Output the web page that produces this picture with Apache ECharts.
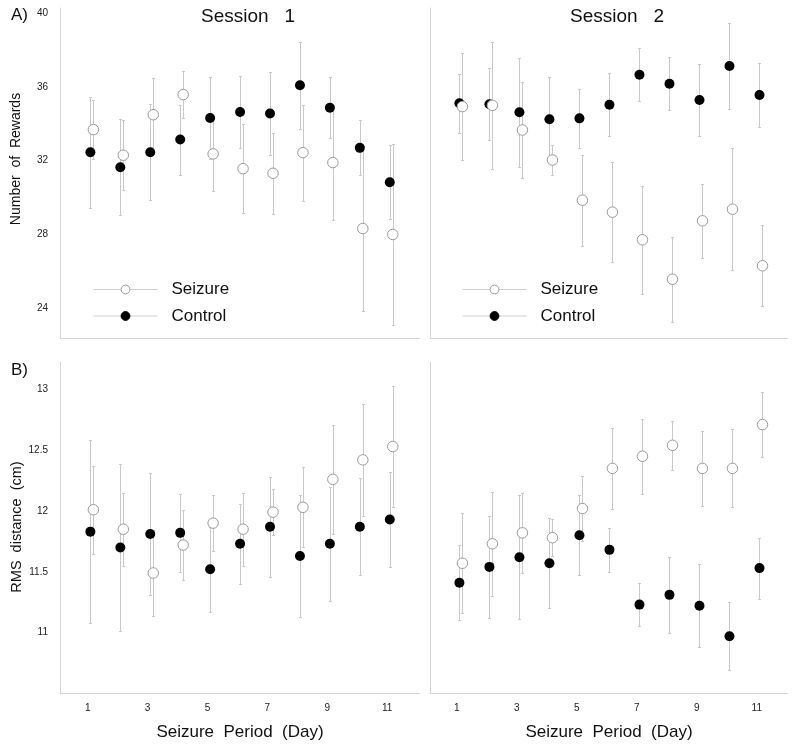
<!DOCTYPE html>
<html>
<head>
<meta charset="utf-8">
<script src="https://cdn.jsdelivr.net/npm/echarts@6/dist/echarts.min.js"></script>
<style>
html,body{margin:0;padding:0;background:#fff;}
#chart{width:799px;height:752px;}
</style>
</head>
<body>
<div id="chart"></div>
<script>
// ---- data ----
const days = [1, 2, 3, 4, 5, 6, 7, 8, 9, 10, 11];
const xTickLabels = [1, 3, 5, 7, 9, 11];
const rewardTicks = [24, 28, 32, 36, 40];
const rmsTicks = [11, 11.5, 12, 12.5, 13];

// Session 1 - Number of rewards
const s1RewardSeizure    = [33.69, 32.30, 34.50, 35.59, 32.37, 31.57, 31.32, 32.44, 31.90, 28.32, 28.00];
const s1RewardSeizureErr = [1.60, 1.90, 2.00, 1.26, 2.00, 2.40, 2.20, 2.60, 3.10, 4.50, 4.90];
const s1RewardControl    = [32.46, 31.65, 32.46, 33.15, 34.32, 34.65, 34.56, 36.10, 34.88, 32.70, 30.83];
const s1RewardControlErr = [3.00, 2.60, 2.60, 1.90, 2.20, 1.95, 2.27, 2.36, 1.65, 1.50, 2.00];

// Session 2 - Number of rewards
const s2RewardSeizure    = [34.94, 35.01, 33.67, 32.04, 29.86, 29.21, 27.71, 25.57, 28.74, 29.37, 26.30];
const s2RewardSeizureErr = [2.90, 3.45, 2.60, 0.80, 2.46, 2.70, 2.92, 2.30, 2.00, 3.30, 2.20];
const s2RewardControl    = [35.12, 35.07, 34.63, 34.25, 34.30, 35.04, 36.67, 36.18, 35.30, 37.14, 35.57];
const s2RewardControlErr = [1.60, 1.95, 2.95, 2.28, 1.60, 1.70, 1.43, 1.45, 1.95, 2.35, 1.75];

// Session 1 - RMS distance (cm)
const s1RmsSeizure    = [12.01, 11.85, 11.49, 11.72, 11.90, 11.85, 11.99, 12.03, 12.26, 12.42, 12.53];
const s1RmsSeizureErr = [0.36, 0.30, 0.35, 0.29, 0.23, 0.30, 0.19, 0.33, 0.45, 0.46, 0.50];
const s1RmsControl    = [11.83, 11.70, 11.81, 11.82, 11.52, 11.73, 11.87, 11.63, 11.73, 11.87, 11.93];
const s1RmsControlErr = [0.75, 0.69, 0.50, 0.32, 0.35, 0.33, 0.41, 0.50, 0.47, 0.40, 0.39];

// Session 2 - RMS distance (cm)
const s2RmsSeizure    = [11.57, 11.73, 11.82, 11.78, 12.02, 12.35, 12.45, 12.54, 12.35, 12.35, 12.71];
const s2RmsSeizureErr = [0.41, 0.43, 0.33, 0.15, 0.27, 0.33, 0.31, 0.20, 0.31, 0.32, 0.27];
const s2RmsControl    = [11.41, 11.54, 11.62, 11.57, 11.80, 11.68, 11.23, 11.31, 11.22, 10.97, 11.53];
const s2RmsControlErr = [0.31, 0.42, 0.51, 0.37, 0.33, 0.18, 0.18, 0.31, 0.34, 0.28, 0.25];

// ---- style / layout ----
const FONT = '"Liberation Sans", Arial, Helvetica, sans-serif';
const AXIS_COLOR = '#d6d6d6';
const BAR_COLOR = '#c9c9c9';
const CONTROL_OFFSET = 0.09;
const SEIZURE_OFFSET = 0.19;

const panels = [
  { grid: {left: 60, top: 8, width: 360, height: 330}, xmin: 0.075, xmax: 12.1, ymin: 22.38, ymax: 40.29, yTicks: rewardTicks, yLabels: true, xLabels: false,
    seizure: s1RewardSeizure, seizureErr: s1RewardSeizureErr, control: s1RewardControl, controlErr: s1RewardControlErr },
  { grid: {left: 430, top: 8, width: 358, height: 330}, xmin: 0.11, xmax: 12.04, ymin: 22.38, ymax: 40.29, yTicks: rewardTicks, yLabels: false, xLabels: false,
    seizure: s2RewardSeizure, seizureErr: s2RewardSeizureErr, control: s2RewardControl, controlErr: s2RewardControlErr },
  { grid: {left: 60, top: 362, width: 360, height: 331}, xmin: 0.075, xmax: 12.1, ymin: 10.503, ymax: 13.225, yTicks: rmsTicks, yLabels: true, xLabels: true,
    seizure: s1RmsSeizure, seizureErr: s1RmsSeizureErr, control: s1RmsControl, controlErr: s1RmsControlErr },
  { grid: {left: 430, top: 362, width: 358, height: 331}, xmin: 0.11, xmax: 12.04, ymin: 10.503, ymax: 13.225, yTicks: rmsTicks, yLabels: false, xLabels: true,
    seizure: s2RmsSeizure, seizureErr: s2RmsSeizureErr, control: s2RmsControl, controlErr: s2RmsControlErr }
];

function errRender(params, api) {
  const x = api.value(0), lo = api.value(1), hi = api.value(2);
  const t = api.coord([x, hi]);
  const b = api.coord([x, lo]);
  const cx = Math.round(t[0]) + 0.5;
  const ty = Math.round(t[1]) + 0.5, by = Math.round(b[1]) + 0.5;
  const st = {stroke: BAR_COLOR, lineWidth: 1};
  return {type: 'group', children: [
    {type: 'line', shape: {x1: cx, y1: ty, x2: cx, y2: by}, style: st},
    {type: 'line', shape: {x1: cx - 1.5, y1: ty, x2: cx + 1.5, y2: ty}, style: st},
    {type: 'line', shape: {x1: cx - 1.5, y1: by, x2: cx + 1.5, y2: by}, style: st}
  ]};
}

const grids = [], xAxes = [], yAxes = [], series = [];
panels.forEach((p, i) => {
  grids.push(Object.assign({containLabel: false}, p.grid));
  xAxes.push({
    type: 'value', gridIndex: i, min: p.xmin, max: p.xmax,
    axisLine: {show: true, onZero: false, lineStyle: {color: AXIS_COLOR, width: 1}},
    axisTick: {show: false}, splitLine: {show: false},
    axisLabel: {show: p.xLabels, customValues: xTickLabels, margin: 10, fontSize: 10, color: '#222', fontFamily: FONT}
  });
  yAxes.push({
    type: 'value', gridIndex: i, min: p.ymin, max: p.ymax,
    axisLine: {show: true, onZero: false, lineStyle: {color: AXIS_COLOR, width: 1}},
    axisTick: {show: false}, splitLine: {show: false},
    axisLabel: {show: p.yLabels, customValues: p.yTicks, margin: 12, fontSize: 10, color: '#222', fontFamily: FONT}
  });
  const cx = days.map(d => d + CONTROL_OFFSET);
  const sx = days.map(d => d + SEIZURE_OFFSET);
  series.push({
    type: 'custom', name: 'ctrlErr' + i, xAxisIndex: i, yAxisIndex: i, z: 1, silent: true,
    renderItem: errRender, encode: {x: 0, y: [1, 2]},
    data: days.map((d, k) => [cx[k], p.control[k] - p.controlErr[k], p.control[k] + p.controlErr[k]])
  });
  series.push({
    type: 'custom', name: 'seizErr' + i, xAxisIndex: i, yAxisIndex: i, z: 1, silent: true,
    renderItem: errRender, encode: {x: 0, y: [1, 2]},
    data: days.map((d, k) => [sx[k], p.seizure[k] - p.seizureErr[k], p.seizure[k] + p.seizureErr[k]])
  });
  series.push({
    type: 'line', name: 'Control', xAxisIndex: i, yAxisIndex: i, z: 3,
    symbol: 'circle', symbolSize: 10, showAllSymbol: true,
    lineStyle: {opacity: 0}, itemStyle: {color: '#000', borderColor: '#000', borderWidth: 0},
    data: days.map((d, k) => [cx[k], p.control[k]])
  });
  series.push({
    type: 'line', name: 'Seizure', xAxisIndex: i, yAxisIndex: i, z: 4,
    symbol: 'circle', symbolSize: 10.5, showAllSymbol: true,
    lineStyle: {opacity: 0}, itemStyle: {color: '#fff', borderColor: '#9a9a9a', borderWidth: 1},
    data: days.map((d, k) => [sx[k], p.seizure[k]])
  });
});

const legendBase = {
  data: ['Seizure', 'Control'], orient: 'vertical', top: 276,
  itemWidth: 64, itemHeight: 11, itemGap: 9.5, selectedMode: false,
  textStyle: {fontSize: 17, color: '#111', fontFamily: FONT, padding: [0, 0, 0, 9]},
  itemStyle: {borderWidth: 1},
  lineStyle: {color: '#cfcfcf', width: 1, opacity: 1}
};

const txt = (text, x, y, size, extra) => ({
  type: 'text', x: x, y: y, silent: true,
  style: Object.assign({text: text, fontSize: size, fontFamily: FONT, fill: '#111', align: 'center', verticalAlign: 'middle'}, extra || {})
});

const option = {
  backgroundColor: '#fff',
  animation: false,
  grid: grids, xAxis: xAxes, yAxis: yAxes, series: series,
  legend: [Object.assign({left: 88}, legendBase), Object.assign({left: 457}, legendBase)],
  graphic: [
    txt('A)', 19.5, 15.5, 17),
    txt('B)', 19.5, 370, 17),
    txt('Session   1', 248, 16.5, 19),
    txt('Session   2', 617, 16.5, 19),
    Object.assign(txt('Number  of  Rewards', 16.5, 159, 14), {rotation: Math.PI / 2}),
    Object.assign(txt('RMS  distance  (cm)', 17, 527, 14.5), {rotation: Math.PI / 2}),
    txt('Seizure  Period  (Day)', 240, 732, 17),
    txt('Seizure  Period  (Day)', 609, 732, 17)
  ]
};

const chart = echarts.init(document.getElementById('chart'), null, {renderer: 'canvas'});
chart.setOption(option);
</script>
</body>
</html>
